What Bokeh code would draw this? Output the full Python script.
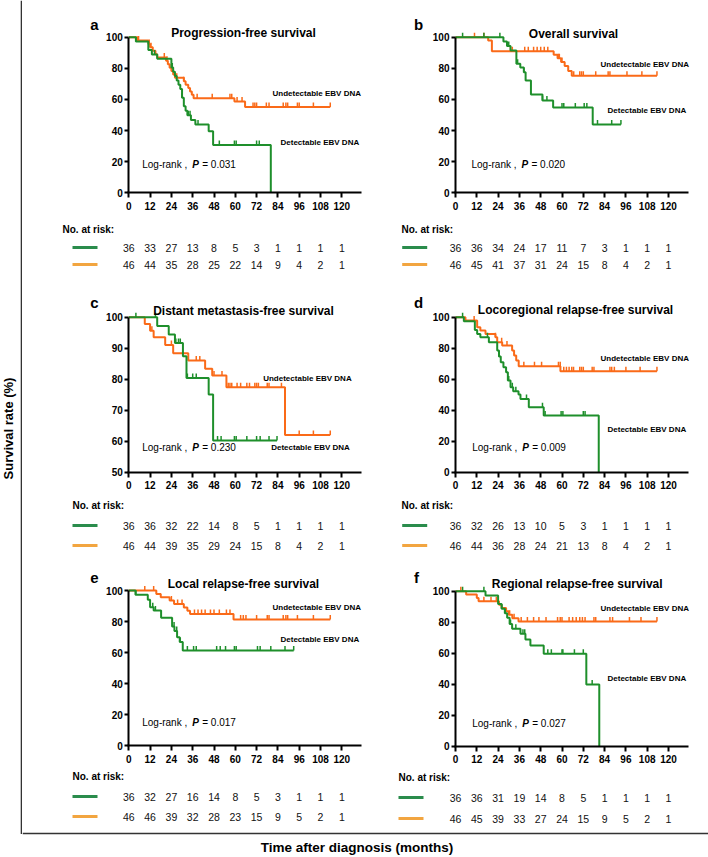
import numpy as np
from bokeh.plotting import figure
from bokeh.layouts import row, column
from bokeh.models import Range1d, FixedTicker
from bokeh.core.properties import value
from bokeh.embed import file_html
from bokeh.resources import INLINE

FONT = "Liberation Sans"
GREEN = "#1e8f2b"
ORANGE = "#fa6a18"
GREEN_KEY = "#2a8c4c"
ORANGE_KEY = "#f2a540"

risk_months = [0, 12, 24, 36, 48, 60, 72, 84, 96, 108, 120]

# ---------------- panel a : Progression-free survival ----------------
a_det_t = [0, 4, 11, 13, 16, 24, 25, 26, 27, 28, 29, 30, 31, 32, 33, 35, 37.5, 45, 47.5, 80]
a_det_s = [100, 97.2, 91.7, 88.9, 86.1, 80.6, 77.8, 75.0, 72.2, 69.4, 66.7, 61.1, 55.6, 52.8, 49.9, 46.8, 43.9, 39.5, 30.8, 0]
a_det_c = [4, 14.5, 24.5, 30, 33.5, 34.5, 39, 51, 59.5, 60.5, 72, 73.5]
a_und_t = [0, 5, 11, 12, 13.5, 15, 16, 21, 22, 23, 24, 25, 26, 31, 32, 33.5, 34.5, 35.5, 36.5, 59.5, 65.5, 113.5]
a_und_s = [100, 97.8, 95.7, 93.5, 91.3, 89.1, 87.0, 84.8, 82.6, 80.4, 78.3, 76.1, 73.9, 71.7, 69.5, 67.3, 65.1, 63.0, 60.8, 58.6, 55.2, 55.2]
a_und_c = [5.5, 11.5, 12.5, 20, 21.5, 27, 31, 38.5, 47, 57, 58, 61, 63.8, 70, 71, 72, 77.5, 79, 87, 88.5, 89.5, 95, 96, 104, 113.5]
a_risk_det = [36, 33, 27, 13, 8, 5, 3, 1, 1, 1, 1]
a_risk_und = [46, 44, 35, 28, 25, 22, 14, 9, 4, 2, 1]

# ---------------- panel b : Overall survival ----------------
b_det_t = [0, 27, 29, 31, 34.3, 36.5, 38.5, 39.5, 42.5, 49, 55, 77.3, 93.2]
b_det_s = [100, 97.2, 94.4, 91.4, 83.0, 80.5, 77.5, 72.2, 63.2, 59.3, 54.8, 43.9, 43.9]
b_det_c = [4, 16, 25, 30, 35, 38.5, 49, 51.5, 60, 61, 67.5, 72.5, 74, 80, 88, 93.2]
b_und_t = [0, 18.4, 20.5, 55.3, 57.5, 59.5, 61.5, 63.5, 65.5, 113.5]
b_und_s = [100, 97.8, 90.9, 88.7, 86.5, 84.0, 81.5, 78.3, 75.2, 75.2]
b_und_c = [10.7, 16, 31, 32, 39, 41, 44, 46, 48, 50, 52, 58, 58.5, 60, 66.6, 70, 71, 72, 79, 86, 87, 96.6, 105, 113.5]
b_risk_det = [36, 36, 34, 24, 17, 11, 7, 3, 1, 1, 1]
b_risk_und = [46, 45, 41, 37, 31, 24, 15, 8, 4, 2, 1]

# ---------------- panel c : Distant metastasis-free survival ----------------
c_det_t = [0, 16, 22.5, 26, 30.5, 32.5, 45, 47.5, 83.5]
c_det_s = [100, 97.2, 94.4, 91.7, 87.4, 80.4, 75.1, 60.2, 60.2]
c_det_c = [4, 15, 26.5, 28, 29, 33, 36, 38, 50, 52, 59.5, 60.5, 66.5, 72, 74, 79, 83.5]
c_und_t = [0, 9, 12, 14, 20.5, 25, 33.5, 43, 47, 55, 88, 113.5]
c_und_s = [100, 97.8, 95.6, 93.5, 91.0, 88.4, 86.0, 83.4, 81.2, 77.4, 62.0, 62.0]
c_und_c = [13, 24, 38, 40, 48, 52.5, 56, 57, 58, 61, 63, 66.5, 68, 71, 72, 73, 78, 79, 86, 96, 104, 113.5]
c_risk_det = [36, 36, 32, 22, 14, 8, 5, 1, 1, 1, 1]
c_risk_und = [46, 44, 39, 35, 29, 24, 15, 8, 4, 2, 1]

# ---------------- panel d : Locoregional relapse-free survival ----------------
d_det_t = [0, 4.7, 10.9, 12.2, 14, 18.8, 23.5, 24.5, 25.5, 27, 28.5, 29.5, 31, 32.5, 35.5, 36.6, 41.3, 49.7, 80.7]
d_det_s = [100, 97.4, 91.8, 89.2, 87.1, 83.9, 78.5, 74.6, 71.0, 67.7, 64.5, 59.1, 54.8, 52.3, 50.1, 47.3, 41.9, 36.6, 0]
d_det_c = [4, 18, 24.5, 30, 32, 34, 40, 49, 50.5, 59.5, 60.5, 72, 73]
d_und_t = [0, 5.6, 12.2, 14, 16.9, 22.5, 23.5, 26.3, 31.9, 33, 34.2, 35.6, 59.1, 113.5]
d_und_s = [100, 97.8, 93.5, 91.4, 89.2, 87.1, 83.9, 81.7, 78.5, 75.3, 72.0, 68.4, 65.2, 65.2]
d_und_c = [10.5, 22.5, 26, 29, 38.5, 44.5, 48.5, 58, 59, 61, 62.5, 64, 65.5, 66.5, 70, 71, 72, 77, 78, 87, 88, 89.5, 96, 104, 113.5]
d_risk_det = [36, 32, 26, 13, 10, 5, 3, 1, 1, 1, 1]
d_risk_und = [46, 44, 36, 28, 24, 21, 13, 8, 4, 2, 1]

# ---------------- panel e : Local relapse-free survival ----------------
e_det_t = [0, 3.75, 10.7, 12, 14, 18.2, 24.4, 25.7, 27.2, 28.7, 30.4, 92.9]
e_det_s = [100, 97.2, 94.0, 89.2, 87.1, 82.4, 76.8, 73.8, 69.9, 66.7, 61.3, 61.3]
e_det_c = [4, 13.5, 15, 25.5, 27, 29, 33, 36.5, 38, 49.5, 51.5, 54.5, 59.5, 60.5, 72.5, 74, 80, 88, 92.9]
e_und_t = [0, 15.5, 18, 23, 25.5, 31, 33, 34.5, 59, 113.5]
e_und_s = [100, 97.8, 95.6, 93.5, 91.3, 89.1, 86.9, 84.8, 81.3, 81.3]
e_und_c = [9, 14, 24, 27.5, 30, 37, 39, 41, 43, 46, 48, 51, 55, 57, 63, 64.5, 66, 72, 78, 79, 87, 88.5, 89.5, 95, 104, 113.5]
e_risk_det = [36, 32, 27, 16, 14, 8, 5, 3, 1, 1, 1]
e_risk_und = [46, 46, 39, 32, 28, 23, 15, 9, 5, 2, 1]

# ---------------- panel f : Regional relapse-free survival ----------------
f_det_t = [0, 16.9, 24, 26, 27.8, 29.1, 30.5, 31.9, 36.6, 39.4, 42.2, 49.7, 73.7, 81]
f_det_s = [100, 97.2, 91.8, 88.6, 85.8, 82.8, 78.9, 75.7, 72.5, 68.8, 64.9, 59.6, 39.8, 0]
f_det_c = [4, 16, 26, 28, 31, 34, 38, 39, 52, 54, 60, 60.5, 67, 72, 77]
f_und_t = [0, 6, 12, 13, 24.5, 26, 28.5, 30, 32, 35.5, 113.5]
f_und_s = [100, 97.8, 95.6, 93.5, 91.3, 89.1, 87.0, 84.8, 82.6, 80.4, 80.4]
f_und_c = [3, 16, 20, 23, 30.5, 33, 37, 40.5, 44, 47, 51, 57.5, 59, 60, 64, 66, 68, 70, 71.5, 73, 78, 79, 87, 88.5, 98, 104.5, 113.5]
f_risk_det = [36, 36, 31, 19, 14, 8, 5, 1, 1, 1, 1]
f_risk_und = [46, 45, 39, 33, 27, 24, 15, 9, 5, 2, 1]

titles = ["Progression-free survival", "Overall survival", "Distant metastasis-free survival",
          "Locoregional relapse-free survival", "Local relapse-free survival", "Regional relapse-free survival"]
letters = ["a", "b", "c", "d", "e", "f"]
p_values = ["0.031", "0.020", "0.230", "0.009", "0.017", "0.027"]
yticks_full = [0, 20, 40, 60, 80, 100]
yticks_c = [50, 60, 70, 80, 90, 100]
label_und = "Undetectable EBV DNA"
label_det = "Detectable  EBV DNA"

# ---------------- layout (page pixel positions) ----------------
PXM = 1.775          # pixels per month
AXIS_END = 131.3
LEFT_CELL = (22, 368)
RIGHT_CELL = (390, 318)
ROWS = [(0, 285), (285, 275), (560, 268)]
TOTAL_W, TOTAL_H = 708, 857

specs = [
    dict(det=(a_det_t, a_det_s, a_det_c), und=(a_und_t, a_und_s, a_und_c), risk=(a_risk_det, a_risk_und),
         col=LEFT_CELL, row=ROWS[0], x0=128.3, ytop=36.7, ybot=192.3, ymin=0, ymax=100, yticks=yticks_full,
         title=(243, 32), letter=(94, 24), und_lab=(272, 93), det_lab=(280, 142), lr=(141.7, 164),
         nar=(62, 229), rows=(247, 264), key=(72, 97)),
    dict(det=(b_det_t, b_det_s, b_det_c), und=(b_und_t, b_und_s, b_und_c), risk=(b_risk_det, b_risk_und),
         col=RIGHT_CELL, row=ROWS[0], x0=455, ytop=36.7, ybot=192.3, ymin=0, ymax=100, yticks=yticks_full,
         title=(573, 33), letter=(418, 24), und_lab=(600, 64), det_lab=(607, 110), lr=(471, 164),
         nar=(401, 229), rows=(247, 264), key=(401.7, 426.7)),
    dict(det=(c_det_t, c_det_s, c_det_c), und=(c_und_t, c_und_s, c_und_c), risk=(c_risk_det, c_risk_und),
         col=LEFT_CELL, row=ROWS[1], x0=128.3, ytop=316.7, ybot=471.7, ymin=50, ymax=100, yticks=yticks_c,
         title=(243, 310.7), letter=(94, 302), und_lab=(262.7, 378.3), det_lab=(270.7, 447.3), lr=(141.7, 446.7),
         nar=(72, 505), rows=(525, 545), key=(72, 97)),
    dict(det=(d_det_t, d_det_s, d_det_c), und=(d_und_t, d_und_s, d_und_c), risk=(d_risk_det, d_risk_und),
         col=RIGHT_CELL, row=ROWS[1], x0=455, ytop=316.7, ybot=471.7, ymin=0, ymax=100, yticks=yticks_full,
         title=(575, 309), letter=(418, 301.7), und_lab=(600, 358.3), det_lab=(607, 429), lr=(471.7, 446.7),
         nar=(401, 504.5), rows=(525, 545), key=(401.7, 426.7)),
    dict(det=(e_det_t, e_det_s, e_det_c), und=(e_und_t, e_und_s, e_und_c), risk=(e_risk_det, e_risk_und),
         col=LEFT_CELL, row=ROWS[2], x0=128.3, ytop=590, ybot=745, ymin=0, ymax=100, yticks=yticks_full,
         title=(243, 583.3), letter=(94, 577.7), und_lab=(272, 606.7), det_lab=(280, 639), lr=(141.7, 721.7),
         nar=(72, 776), rows=(796, 816), key=(72, 97)),
    dict(det=(f_det_t, f_det_s, f_det_c), und=(f_und_t, f_und_s, f_und_c), risk=(f_risk_det, f_risk_und),
         col=RIGHT_CELL, row=ROWS[2], x0=455, ytop=590.7, ybot=745.7, ymin=0, ymax=100, yticks=yticks_full,
         title=(576.7, 583.3), letter=(416, 577.3), und_lab=(600, 608.3), det_lab=(607, 677.7), lr=(471.7, 722.7),
         nar=(398, 777), rows=(797, 818), key=(398, 423)),
]


def surv_at(times, vals, t):
    times = np.asarray(times, dtype=float)
    vals = np.asarray(vals, dtype=float)
    idx = np.searchsorted(times, np.asarray(t, dtype=float), side="right") - 1
    return vals[idx]


def txt(p, x, y, text, size, style="normal", align="left", color="black", angle=0.0):
    p.text(x=[x], y=[y], text=[text], text_font=value(FONT), text_font_size=size,
           text_font_style=style, text_align=align, text_baseline="middle",
           text_color=color, angle=angle)


def build(i, s):
    x0, ytop, ybot, ymin, ymax = s["x0"], s["ytop"], s["ybot"], s["ymin"], s["ymax"]
    ppu = (ybot - ytop) / (ymax - ymin)
    dx = lambda px: (px - x0) / PXM
    dy = lambda py: ymin + (ybot - py) / ppu
    L, W = s["col"]
    T, H = s["row"]
    p = figure(width=W, height=H, title=None,
               x_range=Range1d(dx(L), dx(L + W)), y_range=Range1d(dy(T + H), dy(T)),
               output_backend="svg", toolbar_location=None, min_border=0,
               outline_line_color=None)
    p.xgrid.visible = False
    p.ygrid.visible = False
    xa, ya = p.xaxis[0], p.yaxis[0]
    for ax in (xa, ya):
        ax.axis_line_width = 2
        ax.axis_line_color = "black"
        ax.major_tick_line_width = 2
        ax.major_tick_line_color = "black"
        ax.major_tick_in = 0
        ax.minor_tick_line_color = None
        ax.major_label_text_font = FONT
        ax.major_label_text_font_size = "10px"
        ax.major_label_text_font_style = "bold"
        ax.major_label_text_color = "black"
    xa.fixed_location = ymin
    xa.bounds = (-0.6, AXIS_END)
    xa.ticker = FixedTicker(ticks=risk_months)
    xa.major_tick_out = 5
    xa.major_label_standoff = 4
    ya.fixed_location = 0
    ya.bounds = (ymin, ymax)
    ya.ticker = FixedTicker(ticks=s["yticks"])
    ya.major_tick_out = 4
    ya.major_label_standoff = 2

    tick_h = 4.5 / ppu
    for (t, v, c), col in ((s["und"], ORANGE), (s["det"], GREEN)):
        p.step(x=t, y=v, mode="after", line_width=2, line_color=col)
        cy = surv_at(t, v, c)
        p.segment(x0=c, y0=cy, x1=c, y1=cy + tick_h, line_width=1.5, line_color=col)

    # texts
    txt(p, dx(s["title"][0]), dy(s["title"][1]), titles[i], "12px", "bold", "center")
    txt(p, dx(s["letter"][0]), dy(s["letter"][1]), letters[i], "15px", "bold", "center")
    txt(p, dx(s["und_lab"][0]), dy(s["und_lab"][1]), label_und, "8px", "bold")
    txt(p, dx(s["det_lab"][0]), dy(s["det_lab"][1]), label_det, "8px", "bold")
    lx, ly = s["lr"]
    txt(p, dx(lx), dy(ly), "Log-rank , ", "10px")
    txt(p, dx(lx + 50), dy(ly), "P", "10px", "bold italic")
    txt(p, dx(lx + 60), dy(ly), "= " + p_values[i], "10px")

    # number at risk table
    txt(p, dx(s["nar"][0]), dy(s["nar"][1]), "No. at risk:", "10px", "bold")
    gy, oy = s["rows"]
    k1, k2 = s["key"]
    p.segment(x0=[dx(k1)], y0=[dy(gy)], x1=[dx(k2)], y1=[dy(gy)], line_width=3, line_color=GREEN_KEY)
    p.segment(x0=[dx(k1)], y0=[dy(oy)], x1=[dx(k2)], y1=[dy(oy)], line_width=3, line_color=ORANGE_KEY)
    rd, ru = s["risk"]
    p.text(x=risk_months, y=[dy(gy)] * len(risk_months), text=[str(n) for n in rd],
           text_font=value(FONT), text_font_size="10.5px", text_align="center",
           text_baseline="middle", text_color="#111111")
    p.text(x=risk_months, y=[dy(oy)] * len(risk_months), text=[str(n) for n in ru],
           text_font=value(FONT), text_font_size="10.5px", text_align="center",
           text_baseline="middle", text_color="#111111")
    return p


figs = [build(i, s) for i, s in enumerate(specs)]

# left strip: y-axis title and frame line
strip = figure(width=22, height=TOTAL_H, x_range=Range1d(0, 22),
               y_range=Range1d(TOTAL_H, 0), output_backend="svg",
               toolbar_location=None, min_border=0, outline_line_color=None, title=None)
strip.axis.visible = False
strip.grid.visible = False
strip.segment(x0=[21], y0=[0], x1=[21], y1=[833.5], line_width=1.6, line_color="#333333")
txt(strip, 8, 428, "Survival rate (%)", "13px", "bold", "center", angle=np.pi / 2)

# bottom strip: frame line and x-axis title
BOT_T = 828
bottom = figure(width=TOTAL_W - 22, height=TOTAL_H - BOT_T, x_range=Range1d(22, TOTAL_W),
                y_range=Range1d(TOTAL_H, BOT_T), output_backend="svg", toolbar_location=None,
                min_border=0, outline_line_color=None, title=None)
bottom.axis.visible = False
bottom.grid.visible = False
bottom.segment(x0=[22], y0=[833], x1=[TOTAL_W], y1=[833], line_width=1.6, line_color="#333333")
txt(bottom, 356.5, 847, "Time after diagnosis (months)", "13.5px", "bold", "center")

main = column(row(figs[0], figs[1], spacing=0), row(figs[2], figs[3], spacing=0),
              row(figs[4], figs[5], spacing=0), bottom, spacing=0)
layout = row(strip, main, spacing=0)

open("out.html", "w").write(file_html(layout, INLINE))
